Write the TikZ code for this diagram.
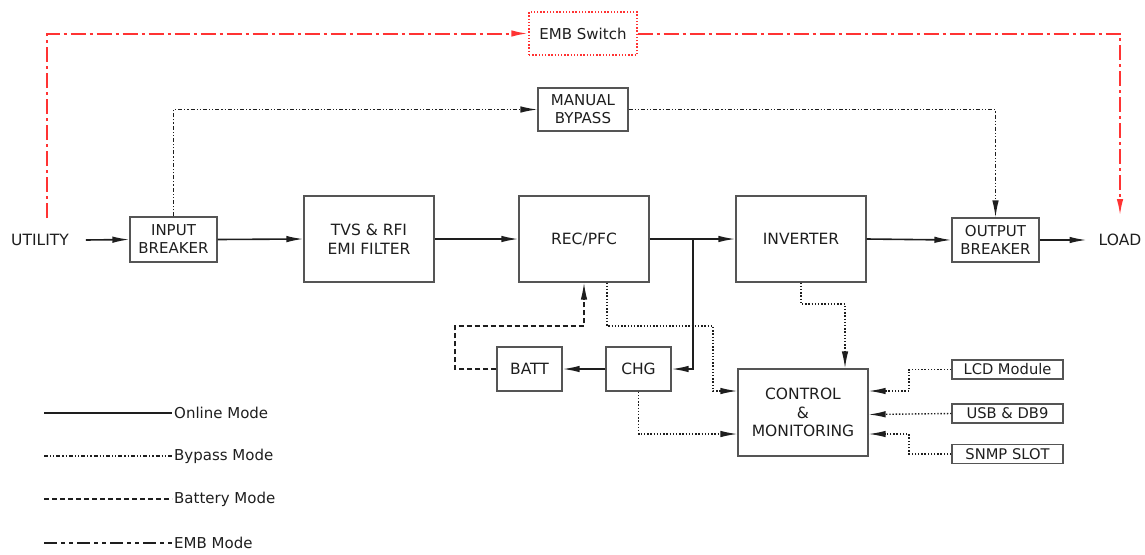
\documentclass[tikz,border=0pt]{standalone}
\usepackage{fontspec}
\setmainfont{DejaVu Sans}
\usetikzlibrary{arrows.meta}
\definecolor{embred}{HTML}{FF3333}
\definecolor{boxline}{HTML}{555555}
\definecolor{ink}{HTML}{1E1E1E}
\begin{document}
\begin{tikzpicture}[x=1pt,y=-1pt,
  box/.style={draw=boxline,line width=1.1pt,inner sep=0pt,align=center,text=ink,font=\fontsize{15.5}{18.5}\selectfont},
  bigbox/.style={box,minimum width=130pt,minimum height=86pt},
  smallbox/.style={box,minimum width=87pt,minimum height=45pt,font=\fontsize{15}{18}\selectfont},
  portbox/.style={box,minimum width=111pt,minimum height=19pt,font=\fontsize{14.7}{17}\selectfont},
  label/.style={inner sep=0pt,text=ink,font=\fontsize{15.5}{18}\selectfont},
  legtext/.style={inner sep=2pt,anchor=west,text=ink,font=\fontsize{15}{17}\selectfont},
  tip/.style={-{Latex[length=17pt,width=6.5pt]}},
  online/.style={draw=ink,line width=1.6pt},
  bypass/.style={draw=ink,line width=1.3pt,dash pattern=on 4pt off 2pt on 1.2pt off 2pt on 1.2pt off 2pt},
  battery/.style={draw=ink,line width=1.4pt,dash pattern=on 5pt off 3pt},
  embline/.style={draw=embred,line width=2pt,dash pattern=on 15pt off 4pt on 3pt off 4pt},
  emblegend/.style={draw=ink,line width=1.4pt,dash pattern=on 13pt off 4pt on 4pt off 4pt on 4pt off 4pt},
  mon/.style={draw=ink,line width=1.4pt,dash pattern=on 1.4pt off 1.8pt},
]
\useasboundingbox (0,0) rectangle (1145,554);

% nodes
\node[label] (util) at (40,240) {UTILITY};
\node[label] (load) at (1120,240) {LOAD};
\node[box,draw=embred,line width=1.4pt,dash pattern=on 1.4pt off 1.8pt,minimum width=108pt,minimum height=43pt,font=\fontsize{15}{18}\selectfont] (emb) at (583,33.5) {EMB Switch};
\node[smallbox,minimum width=90pt,minimum height=43pt] (mb) at (583,109.5) {MANUAL\\BYPASS};
\node[smallbox] (ib) at (173.5,239.5) {INPUT\\BREAKER};
\node[bigbox] (tvs) at (369,239) {TVS \& RFI\\EMI FILTER};
\node[bigbox] (rec) at (584,239) {REC/PFC};
\node[bigbox] (inv) at (801,239) {INVERTER};
\node[smallbox,minimum height=44pt] (ob) at (995.5,240) {OUTPUT\\BREAKER};
\node[box,minimum width=65pt,minimum height=44pt] (chg) at (638.5,369) {CHG};
\node[box,minimum width=65pt,minimum height=44pt] (batt) at (529.5,369) {BATT};
\node[bigbox,minimum height=87pt] (ctl) at (803,412.5) {CONTROL\\\&\\MONITORING};
\node[portbox] (lcd) at (1007.5,369.5) {LCD Module};
\node[portbox] (usb) at (1007.5,413.5) {USB \& DB9};
\node[portbox] (snmp) at (1007.5,454) {SNMP SLOT};

% helper coordinates
\coordinate (u1) at (47,218);
\coordinate (l1) at (1120,216);
\coordinate (j) at (693,239);
\coordinate (b1) at (455,326);
\coordinate (r1) at (713,326);
\coordinate (i1) at (845,304);
\coordinate (p1) at (909,391);
\coordinate (p2) at (909,434);

% EMB path
\draw[embline,tip] (u1) |- (emb.west);
\draw[embline,tip] (emb.east) -| (l1);

% bypass path
\draw[bypass,tip] (ib.north) |- (mb.west);
\draw[bypass,tip] (mb.east) -| (ob.north);

% online path
\draw[online,tip] ([xshift=17pt]util.east) -- (ib.west);
\draw[online,tip] (ib.east) -- (tvs.west);
\draw[online,tip] (tvs.east) -- (rec.west);
\draw[online,tip] (rec.east) -- (inv.west);
\draw[online,tip] (inv.east) -- (ob.west);
\draw[online,tip] (ob.east) -- ([xshift=-12pt]load.west);
\draw[online,tip] (j) |- (chg.east);
\draw[online,tip] (chg.west) -- (batt.east);

% battery path
\draw[battery,tip] (batt.west) -| (b1) -| (rec.south);

% monitoring
\draw[mon,tip] ([xshift=23pt]rec.south) |- (r1) |- ([yshift=21.5pt]ctl.west);
\draw[mon,tip] (chg.south) |- ([yshift=-21.5pt]ctl.west);
\draw[mon,tip] (inv.south) |- (i1) -- ([xshift=42pt]ctl.north);
\draw[mon,tip] (lcd.west) -| (p1) -- ([yshift=21.5pt]ctl.east);
\draw[mon,tip] (usb.west) -- ([yshift=-1pt]usb.west -| ctl.east);
\draw[mon,tip] (snmp.west) -| (p2) -- ([yshift=-21.5pt]ctl.east);

% legend
\node[legtext] (lg1) at (172,413) {Online Mode};
\node[legtext] (lg2) at (172,456) {Bypass Mode};
\node[legtext] (lg3) at (172,499) {Battery Mode};
\node[legtext] (lg4) at (172,543) {EMB Mode};
\coordinate (s1) at (44,413);
\coordinate (s2) at (44,456);
\coordinate (s3) at (44,499);
\coordinate (s4) at (44,543);
\draw[online] (s1) -- (lg1.west);
\draw[bypass] (s2) -- (lg2.west);
\draw[battery] (s3) -- (lg3.west);
\draw[emblegend] (s4) -- (lg4.west);
\end{tikzpicture}
\end{document}
